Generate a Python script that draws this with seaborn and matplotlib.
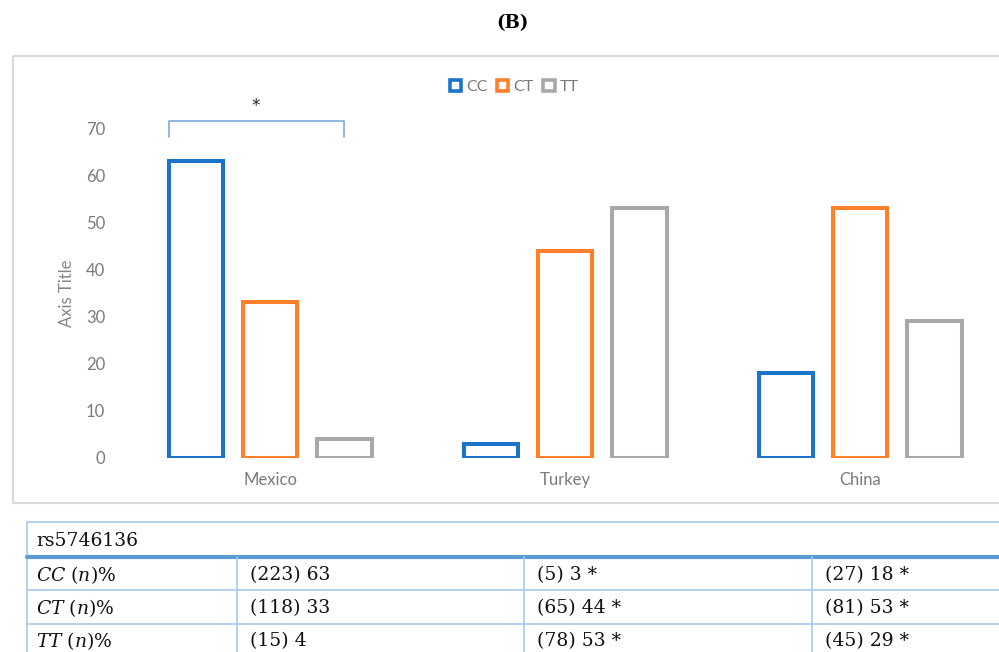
import pandas as pd
import matplotlib.pyplot as plt
import seaborn as sns
from matplotlib.patches import Patch, Rectangle

countries = ["Mexico", "Turkey", "China"]
genotypes = ["CC", "CT", "TT"]
cc_pct = [63, 3, 18]
ct_pct = [33, 44, 53]
tt_pct = [4, 53, 29]
cc_n = [223, 5, 27]
ct_n = [118, 65, 81]
tt_n = [15, 78, 45]
sig_marks = ["", " *", " *"]
snp_name = "rs5746136"
colors = ["#1C74C9", "#FF8029", "#A8A8A8"]

sns.set_style("white")
plt.rcParams["font.family"] = ["Lato", "DejaVu Sans"]
plt.rcParams["mathtext.fontset"] = "dejavuserif"

rows = []
for g, vals in zip(genotypes, [cc_pct, ct_pct, tt_pct]):
    for c, v in zip(countries, vals):
        rows.append({"country": c, "genotype": g, "pct": v})
df = pd.DataFrame(rows)

fig = plt.figure(figsize=(9.99, 6.52), dpi=100)

# overlay in pixel coordinates for the frame, title and table
ov = fig.add_axes([0, 0, 1, 1], zorder=0)
ov.set_xlim(0, 999)
ov.set_ylim(652, 0)
ov.axis("off")

ov.text(512, 23, "(B)", ha="center", va="center", fontsize=13,
        fontweight="bold", family="DejaVu Serif", color="black")
ov.add_patch(Rectangle((13, 56), 1100, 447, fill=False, edgecolor="#D9D9D9", lw=1.5))

ax = fig.add_axes([122.7 / 999, 0.298, 885 / 999, 0.5052], zorder=1)
ax.set_facecolor("none")
sns.barplot(data=df, x="country", y="pct", hue="genotype", order=countries,
            hue_order=genotypes, palette=colors, fill=False, linewidth=2.9,
            width=0.755, gap=0.27, errorbar=None, legend=False, ax=ax)
ax.set_ylim(0, 70)
ax.set_xlim(-0.5, 2.5)
ax.set_yticks(range(0, 71, 10))
ax.tick_params(axis="y", length=0, pad=12.5, labelsize=12, labelcolor="#7A7A7A")
ax.tick_params(axis="x", length=0, pad=10.5, labelsize=12, labelcolor="#7A7A7A")
ax.set_xlabel("")
ax.set_ylabel("Axis Title", fontsize=12, color="#858585", labelpad=8)
sns.despine(ax=ax, left=True, bottom=True)
ax.grid(False)

# significance bracket over Mexico
bars = sorted(ax.patches, key=lambda p: p.get_x())
left = bars[0].get_x()
right = bars[2].get_x() + bars[2].get_width() / 2
ax.plot([left, left, right, right], [68.1, 71.6, 71.6, 68.1], color="#6FA6DC",
        lw=1.1, clip_on=False)
ax.text((left + right) / 2 - 0.005, 74.8, "*", ha="center", va="center",
        fontsize=12, family="DejaVu Sans", color="#222222", clip_on=False)

handles = [Patch(facecolor="white", edgecolor=c, linewidth=2.6, label=g)
           for g, c in zip(genotypes, colors)]
leg = fig.legend(handles=handles, loc="center", bbox_to_anchor=(514 / 999, 1 - 87 / 652),
                 ncol=3, frameon=False, fontsize=11.5, handlelength=0.72,
                 handleheight=0.72, handletextpad=0.3, columnspacing=0.6)
for t in leg.get_texts():
    t.set_color("#7A7A7A")

# table below the chart
line_c = "#A9C8EC"
ov.plot([27, 1100], [522, 522], color=line_c, lw=1.2)
ov.plot([27, 27], [522, 660], color=line_c, lw=1.2)
ov.plot([27, 1100], [557, 557], color="#5B9BD5", lw=3)
for y in [590, 624]:
    ov.plot([27, 1100], [y, y], color=line_c, lw=1.2)
for x in [237, 524, 812]:
    ov.plot([x, x], [557, 660], color=line_c, lw=1.2)

tfont = dict(family="DejaVu Serif", fontsize=13.5, color="#111111", va="center")
ov.text(36, 541, snp_name, **tfont)
col_x = [250, 537, 825]
row_y = [575, 608, 641]
for g, ns, pcts, y in zip(genotypes, [cc_n, ct_n, tt_n], [cc_pct, ct_pct, tt_pct], row_y):
    ov.text(36, y, rf"$\mathit{{{g}}}$ ($\mathit{{n}}$)%", **tfont)
    for x, n, p, s in zip(col_x, ns, pcts, sig_marks):
        ov.text(x, y, f"({n}) {p}{s}", **tfont)

fig.savefig("out.png", dpi=100)
